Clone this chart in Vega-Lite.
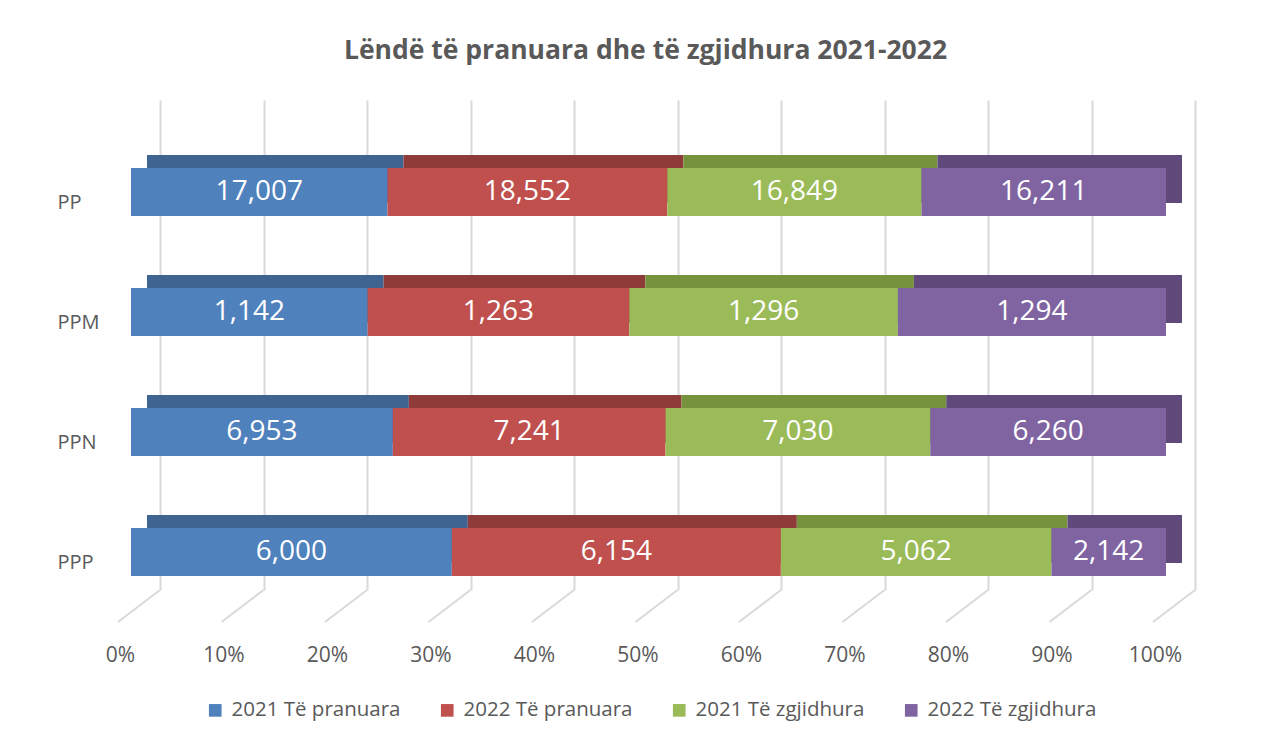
{
  "$schema": "https://vega.github.io/schema/vega-lite/v6.json",
  "width": 1035,
  "height": 490,
  "autosize": {"type": "none"},
  "padding": {"left": 160, "top": 100, "right": 77, "bottom": 153},
  "background": "white",
  "title": {
    "text": "Lëndë të pranuara dhe të zgjidhura 2021-2022",
    "font": "Open Sans",
    "fontSize": 26.5,
    "fontWeight": "bold",
    "color": "#595959",
    "anchor": "middle",
    "dx": -32,
    "offset": 36
  },
  "datasets": {
    "main": [
      {"cat": "PP", "series": "2021 Të pranuara", "s": 1, "v": 17007},
      {"cat": "PP", "series": "2022 Të pranuara", "s": 2, "v": 18552},
      {"cat": "PP", "series": "2021 Të zgjidhura", "s": 3, "v": 16849},
      {"cat": "PP", "series": "2022 Të zgjidhura", "s": 4, "v": 16211},
      {"cat": "PPM", "series": "2021 Të pranuara", "s": 1, "v": 1142},
      {"cat": "PPM", "series": "2022 Të pranuara", "s": 2, "v": 1263},
      {"cat": "PPM", "series": "2021 Të zgjidhura", "s": 3, "v": 1296},
      {"cat": "PPM", "series": "2022 Të zgjidhura", "s": 4, "v": 1294},
      {"cat": "PPN", "series": "2021 Të pranuara", "s": 1, "v": 6953},
      {"cat": "PPN", "series": "2022 Të pranuara", "s": 2, "v": 7241},
      {"cat": "PPN", "series": "2021 Të zgjidhura", "s": 3, "v": 7030},
      {"cat": "PPN", "series": "2022 Të zgjidhura", "s": 4, "v": 6260},
      {"cat": "PPP", "series": "2021 Të pranuara", "s": 1, "v": 6000},
      {"cat": "PPP", "series": "2022 Të pranuara", "s": 2, "v": 6154},
      {"cat": "PPP", "series": "2021 Të zgjidhura", "s": 3, "v": 5062},
      {"cat": "PPP", "series": "2022 Të zgjidhura", "s": 4, "v": 2142}
    ],
    "ticks": [
      {"t": 0}, {"t": 0.1}, {"t": 0.2}, {"t": 0.3}, {"t": 0.4}, {"t": 0.5},
      {"t": 0.6}, {"t": 0.7}, {"t": 0.8}, {"t": 0.9}, {"t": 1}
    ]
  },
  "layer": [
    {
      "data": {"name": "ticks"},
      "mark": {"type": "rule", "color": "#d9d9d9", "strokeWidth": 2, "x2Offset": -42},
      "encoding": {
        "x": {"field": "t", "type": "quantitative", "axis": {"title": null}},
        "x2": {"field": "t"},
        "y": {"value": {"expr": "height"}},
        "y2": {"value": {"expr": "height + 32"}}
      }
    },
    {
      "data": {"name": "main"},
      "mark": {"type": "bar", "xOffset": -13, "x2Offset": -13, "yOffset": -13, "y2Offset": -13},
      "encoding": {
        "y": {"field": "cat", "type": "nominal", "sort": ["PP", "PPM", "PPN", "PPP"],
              "scale": {"paddingInner": 0.6, "paddingOuter": 0.342, "align": 0.83},
              "axis": {"title": null}},
        "x": {"field": "v", "type": "quantitative", "stack": "normalize", "axis": {"title": null}},
        "order": {"field": "s"},
        "color": {"field": "series", "type": "nominal", "legend": null,
                 "scale": {"domain": ["2021 Të pranuara", "2022 Të pranuara", "2021 Të zgjidhura", "2022 Të zgjidhura"],
                           "range": ["#3F6491", "#8E3B39", "#76923C", "#5F4A7B"]}}
      }
    },
    {
      "data": {"name": "main"},
      "mark": {"type": "bar", "xOffset": -29, "x2Offset": -29},
      "encoding": {
        "y": {"field": "cat", "type": "nominal", "sort": ["PP", "PPM", "PPN", "PPP"],
              "axis": {"title": null, "domain": false, "ticks": false, "labelAlign": "left", "labelPadding": 103,
                       "labelOffset": 11, "labelFontSize": 20, "labelColor": "#595959", "labelFont": "Open Sans"}},
        "x": {"field": "v", "type": "quantitative", "stack": "normalize",
              "scale": {"domain": [0, 1], "nice": false},
              "axis": {"title": null, "format": "%", "grid": true, "gridColor": "#d9d9d9", "gridWidth": 2,
                       "domain": false, "ticks": false, "labelPadding": 54, "labelOffset": -40, "labelFlush": false,
                       "labelOverlap": false,
                       "labelFontSize": 21, "labelColor": "#595959", "labelFont": "Open Sans",
                       "values": [0, 0.1, 0.2, 0.3, 0.4, 0.5, 0.6, 0.7, 0.8, 0.9, 1]}},
        "order": {"field": "s"},
        "color": {"field": "series", "type": "nominal",
                  "scale": {"domain": ["2021 Të pranuara", "2022 Të pranuara", "2021 Të zgjidhura", "2022 Të zgjidhura"],
                            "range": ["#4F81BD", "#C0504D", "#9BBB59", "#8064A2"]},
                  "legend": {"orient": "none", "legendX": 45, "legendY": 600, "direction": "horizontal", "title": null,
                             "symbolType": "square", "symbolSize": 160, "symbolStrokeWidth": 0,
                             "labelFontSize": 20.5, "labelFont": "Open Sans", "labelColor": "#595959", "labelLimit": 400,
                             "columnPadding": 36, "labelOffset": 6}}
      }
    },
    {
      "data": {"name": "main"},
      "mark": {"type": "text", "color": "white", "font": "Open Sans", "fontSize": 28, "xOffset": -29, "baseline": "middle", "align": "center"},
      "encoding": {
        "y": {"field": "cat", "type": "nominal", "sort": ["PP", "PPM", "PPN", "PPP"]},
        "x": {"field": "v", "type": "quantitative", "stack": "normalize", "bandPosition": 0.5},
        "order": {"field": "s"},
        "detail": {"field": "series"},
        "text": {"field": "v", "type": "quantitative", "format": ",d"}
      }
    }
  ],
  "resolve": {"scale": {"color": "independent"}},
  "config": {
    "view": {"stroke": null}
  }
}
